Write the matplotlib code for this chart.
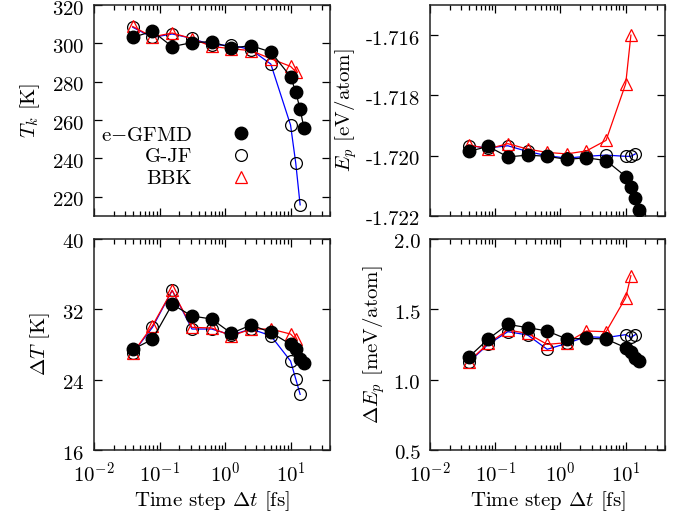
import matplotlib
matplotlib.use("Agg")
import matplotlib.pyplot as plt
import matplotlib.transforms as mtransforms
from matplotlib.lines import Line2D
from matplotlib.ticker import FormatStrFormatter, LogLocator, NullFormatter, FixedLocator

plt.rcParams['font.family'] = ['cmr10', 'DejaVu Serif']
plt.rcParams['mathtext.fontset'] = 'cm'
plt.rcParams['axes.unicode_minus'] = False
plt.rcParams['axes.formatter.use_mathtext'] = True

# time steps (fs)
dt_gfmd = [0.039, 0.078, 0.156, 0.3125, 0.625, 1.25, 2.5, 5, 10, 12, 14, 16]
dt_gjf = [0.039, 0.078, 0.156, 0.3125, 0.625, 1.25, 2.5, 5, 10, 12, 14]
dt_bbk = [0.039, 0.078, 0.156, 0.3125, 0.625, 1.25, 2.5, 5, 10, 12]

# kinetic temperature T_k [K]
tk_gfmd = [303.1, 306.3, 298.3, 300.4, 300.9, 297.6, 298.8, 295.5, 282.7, 274.7, 265.6, 256.0]
tk_gjf = [308.4, 303.1, 304.9, 302.6, 299.1, 299.1, 296.7, 289.2, 257.4, 237.6, 215.8]
tk_bbk = [308.8, 303.4, 305.4, 302.5, 298.4, 297.2, 296.2, 292.0, 288.0, 285.3]

# potential energy E_p [eV/atom]
ep_gfmd = [-1.71986, -1.71969, -1.72004, -1.71998, -1.72002, -1.72012, -1.72007, -1.72016,
           -1.72069, -1.72103, -1.72141, -1.72179]
ep_gjf = [-1.71967, -1.71974, -1.71967, -1.71986, -1.72000, -1.72008, -1.72002, -1.71998,
          -1.72002, -1.72002, -1.71994]
ep_bbk = [-1.71964, -1.71977, -1.71960, -1.71978, -1.71989, -1.71994, -1.71984, -1.71949,
          -1.71761, -1.71600]

# temperature fluctuation Delta T [K]
dT_gfmd = [27.45, 28.59, 32.57, 31.24, 30.9, 29.27, 30.22, 29.38, 28.02, 27.49, 26.35, 25.9]
dT_gjf = [27.0, 29.95, 34.16, 29.76, 29.76, 29.08, 29.76, 29.0, 26.12, 24.08, 22.33]
dT_bbk = [27.0, 30.14, 34.16, 29.95, 29.88, 28.97, 29.76, 29.76, 29.19, 28.59]

# potential energy fluctuation Delta E_p [meV/atom]
dE_gfmd = [1.159, 1.289, 1.393, 1.370, 1.346, 1.289, 1.294, 1.289, 1.227, 1.199, 1.152, 1.133]
dE_gjf = [1.123, 1.251, 1.341, 1.318, 1.216, 1.258, 1.306, 1.299, 1.320, 1.300, 1.320]
dE_bbk = [1.128, 1.258, 1.353, 1.329, 1.251, 1.263, 1.346, 1.341, 1.583, 1.739]

labels = ["e$-$GFMD", "G-JF", "BBK"]

FS = 15
W, H = 677, 515
fig = plt.figure(figsize=(W / 100, H / 100), dpi=100)

def box(x0, y0, x1, y1):
    return [x0 / W, 1 - y1 / H, (x1 - x0) / W, (y1 - y0) / H]

ax_tl = fig.add_axes(box(94, 5, 330, 216))
ax_tr = fig.add_axes(box(430, 5, 665, 216))
ax_bl = fig.add_axes(box(94, 239, 330, 450))
ax_br = fig.add_axes(box(430, 239, 665, 450))

def draw(ax, yg, yj, yb):
    ax.plot(dt_gjf, yj, color='blue', lw=0.9, marker='o', ms=8.5, mfc='none',
            mec='black', mew=0.9, zorder=2)
    ax.plot(dt_bbk, yb, color='red', lw=0.9, marker='^', ms=8, mfc='none',
            mec='red', mew=0.9, zorder=3)
    ax.plot(dt_gfmd, yg, color='black', lw=0.9, marker='o', ms=9, mfc='black',
            mec='black', zorder=4)

draw(ax_tl, tk_gfmd, tk_gjf, tk_bbk)
draw(ax_tr, ep_gfmd, ep_gjf, ep_bbk)
draw(ax_bl, dT_gfmd, dT_gjf, dT_bbk)
draw(ax_br, dE_gfmd, dE_gjf, dE_bbk)

axes = (ax_tl, ax_tr, ax_bl, ax_br)
for ax in axes:
    ax.set_xscale('log')
    ax.set_xlim(0.01, 40)
    ax.xaxis.set_major_locator(LogLocator(base=10, numticks=10))
    ax.xaxis.set_minor_locator(LogLocator(base=10, subs=range(2, 10), numticks=20))
    ax.xaxis.set_minor_formatter(NullFormatter())
    ax.tick_params(which='both', direction='in', top=True, right=True,
                   labelsize=FS, width=0.9)
    ax.tick_params(which='major', length=6, pad=7)
    ax.tick_params(which='minor', length=3.5)
    ax.tick_params(axis='x', which='major', pad=8)
    for s in ax.spines.values():
        s.set_linewidth(1.1)
        s.set_color('#222222')

for ax in (ax_tl, ax_tr):
    ax.tick_params(axis='x', labelbottom=False)
for ax in (ax_bl, ax_br):
    ax.set_xlabel(r"Time step $\Delta t$ [fs]", fontsize=FS, labelpad=3)

ax_tl.set_ylim(210, 320)
ax_tl.yaxis.set_major_locator(FixedLocator([220, 240, 260, 280, 300, 320]))
ax_tl.set_ylabel(r"$T_k$ [K]", fontsize=FS, labelpad=7)

ax_tr.set_ylim(-1.722, -1.715)
ax_tr.yaxis.set_major_locator(FixedLocator([-1.722, -1.720, -1.718, -1.716]))
ax_tr.yaxis.set_major_formatter(FormatStrFormatter('%.3f'))
ax_tr.set_ylabel(r"$E_p$ [eV/atom]", fontsize=FS, labelpad=5)

ax_bl.set_ylim(16, 40)
ax_bl.yaxis.set_major_locator(FixedLocator([16, 24, 32, 40]))
ax_bl.set_ylabel(r"$\Delta T$ [K]", fontsize=FS, labelpad=7)

ax_br.set_ylim(0.5, 2.0)
ax_br.yaxis.set_major_locator(FixedLocator([0.5, 1.0, 1.5, 2.0]))
ax_br.yaxis.set_major_formatter(FormatStrFormatter('%.1f'))
ax_br.set_ylabel(r"$\Delta E_p$ [meV/atom]", fontsize=FS, labelpad=5)

handles = [
    Line2D([], [], ls='none', marker='o', ms=9, mfc='black', mec='black'),
    Line2D([], [], ls='none', marker='o', ms=8.5, mfc='none', mec='black', mew=0.9),
    Line2D([], [], ls='none', marker='^', ms=8, mfc='none', mec='red', mew=0.9),
]
ax_tl.legend(handles, labels, loc='center right', bbox_to_anchor=(0.713, 0.28),
             frameon=False, markerfirst=False, fontsize=FS, handlelength=2,
             handletextpad=1.35, labelspacing=0.15, borderpad=0, borderaxespad=0)

# shift y tick labels slightly downward (as in the reference)
fig.canvas.draw()
offset = mtransforms.ScaledTranslation(0, -2.5 / 100, fig.dpi_scale_trans)
for ax in axes:
    for lab in ax.get_yticklabels():
        lab.set_transform(lab.get_transform() + offset)

fig.savefig("out.png", dpi=100)
